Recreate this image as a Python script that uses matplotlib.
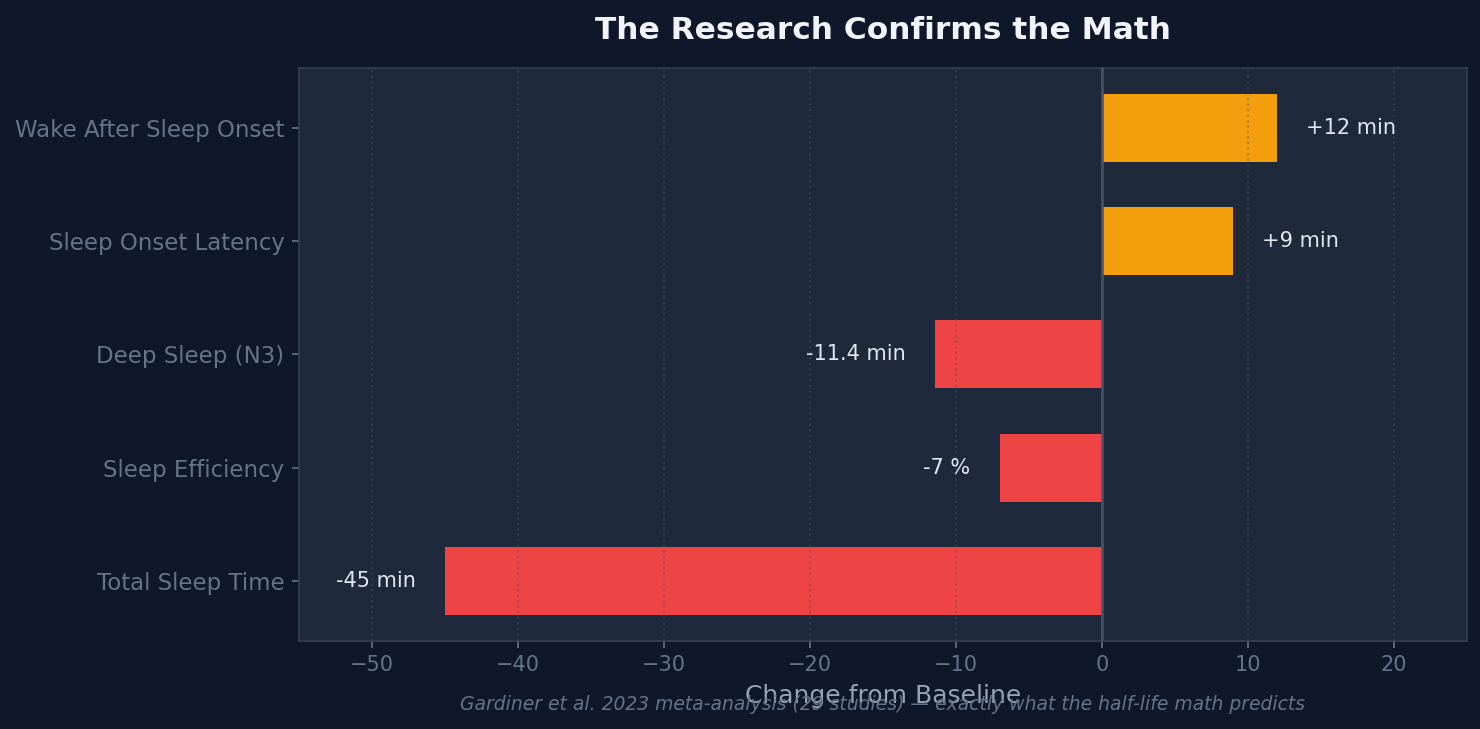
import matplotlib
matplotlib.use("Agg")
import matplotlib.pyplot as plt

# data
metrics = ["Total Sleep Time", "Sleep Efficiency", "Deep Sleep (N3)",
           "Sleep Onset Latency", "Wake After Sleep Onset"]
changes = [-45, -7, -11.4, 9, 12]
labels = ["-45 min", "-7 %", "-11.4 min", "+9 min", "+12 min"]

BG = "#0f172a"
PANEL = "#1e293b"
RED = "#ef4444"
ORANGE = "#f59e0b"
MUTED = "#64748b"

fig, ax = plt.subplots(figsize=(1480 / 150, 729 / 150), dpi=150)
fig.patch.set_facecolor(BG)
ax.set_facecolor(PANEL)

colors = [ORANGE if v > 0 else RED for v in changes]
bars = ax.barh(metrics, changes, height=0.6, color=colors)

ax.axvline(0, color="#475569", linewidth=1.2, zorder=3)

for bar, val, lab in zip(bars, changes, labels):
    y = bar.get_y() + bar.get_height() / 2
    if val > 0:
        ax.text(val + 2, y, lab, ha="left", va="center", fontsize=10, color="#e2e8f0")
    else:
        ax.text(val - 2, y, lab, ha="right", va="center", fontsize=10, color="#e2e8f0")

ax.set_xlim(-55, 25)
ax.grid(axis="x", color="#475569", linestyle=":", linewidth=1.0, alpha=0.45)

ax.set_title("The Research Confirms the Math", fontsize=15, fontweight="bold",
             color="#f1f5f9", pad=14)
ax.set_xlabel("Change from Baseline", fontsize=12, color="#94a3b8", labelpad=4)

ax.tick_params(axis="x", colors=MUTED, labelsize=10)
ax.tick_params(axis="y", colors=MUTED, labelsize=11)
for sp in ax.spines.values():
    sp.set_color("#334155")

fig.subplots_adjust(left=0.202, right=0.991, top=0.907, bottom=0.121)

fig.text(0.596, 0.033, "Gardiner et al. 2023 meta-analysis (29 studies) — exactly what the half-life math predicts",
         ha="center", va="center", fontsize=9, style="italic", color=MUTED)

fig.savefig("out.png", facecolor=BG)
